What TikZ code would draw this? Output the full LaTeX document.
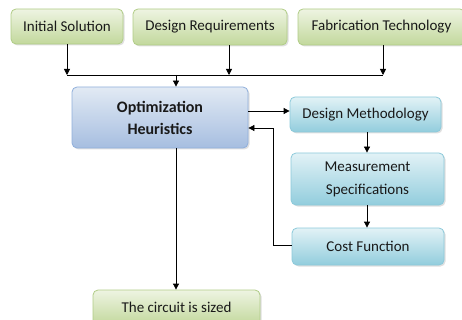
\documentclass[tikz,border=0pt]{standalone}
\usepackage{fontspec}
\setmainfont{Carlito}
\usetikzlibrary{arrows.meta,shadows}

\definecolor{grnTop}{HTML}{EEF4E2}
\definecolor{grnBot}{HTML}{C2D89C}
\definecolor{grnLine}{HTML}{B0CC86}
\definecolor{bluTop}{HTML}{E2EAF4}
\definecolor{bluBot}{HTML}{A6BEE0}
\definecolor{bluLine}{HTML}{90AFDB}
\definecolor{tealTop}{HTML}{E2F2F6}
\definecolor{tealBot}{HTML}{92CDDD}
\definecolor{tealLine}{HTML}{8CC9DA}

\tikzset{
  box/.style={rectangle, rounded corners=5pt, line width=0.8pt,
    align=center, inner sep=2pt, text=black!90,
    font=\fontsize{15}{23}\selectfont,
    drop shadow={opacity=0.25, shadow xshift=1.5pt, shadow yshift=-1.5pt}},
  greenbox/.style={box, draw=grnLine, top color=grnTop, bottom color=grnBot},
  bluebox/.style={box, draw=bluLine, top color=bluTop, bottom color=bluBot,
    font=\fontsize{16}{22}\selectfont\bfseries},
  tealbox/.style={box, draw=tealLine, top color=tealTop, bottom color=tealBot},
  link/.style={line width=0.8pt, draw=black},
  arr/.style={link, -{Triangle[length=6pt,width=6pt]}}
}

\begin{document}
\begin{tikzpicture}[x=1pt,y=-1pt]
  \useasboundingbox (0,0) rectangle (462,320);

  % inputs
  \node[greenbox, minimum width=112pt, minimum height=35pt] (init) at (67,26.5) {Initial Solution};
  \node[greenbox, minimum width=154pt, minimum height=36pt] (req) at (210,27) {Design Requirements};
  \node[greenbox, minimum width=167pt, minimum height=36pt] (fab) at (381.5,27) {Fabrication Technology};

  % optimizer
  \node[bluebox, minimum width=176pt, minimum height=61pt] (opt) at (160,117.5) {Optimization\\Heuristics};

  % evaluation loop
  \node[tealbox, minimum width=151pt, minimum height=35pt] (dm) at (365.5,114.5) {Design Methodology};
  \node[tealbox, minimum width=153pt, minimum height=52pt] (ms) at (367.5,179) {Measurement\\Specifications};
  \node[tealbox, minimum width=152pt, minimum height=37pt] (cf) at (368,246.5) {Cost Function};

  % result
  \node[greenbox, minimum width=167pt, minimum height=35pt] (out) at (176.5,307.5) {The circuit is sized};

  % collecting bus
  \coordinate (busL) at (67,75);
  \coordinate (busR) at (383,75);
  \coordinate (busM) at (176,75);
  \draw[link] (busL) -- (busR);
  \draw[arr] (init.south -| busL) -- (busL);
  \draw[arr] (req.south -| 229,0) -- (229,75);
  \draw[arr] (fab.south -| busR) -- (busR);
  \draw[arr] (busM) -- (opt.north -| busM);

  % loop connectors
  \draw[arr] (opt.east |- 0,111) -- (dm.west |- 0,111);
  \draw[arr] (dm.south -| 367,0) -- (ms.north -| 367,0);
  \draw[arr] (ms.south -| 367,0) -- (cf.north -| 367,0);
  \coordinate (fbk) at (273,245);
  \draw[arr] (cf.west |- fbk) -- (fbk) -- (273,128) -- (opt.east |- 0,128);

  % output
  \draw[arr] (opt.south -| busM) -- (out.north -| busM);
\end{tikzpicture}
\end{document}
